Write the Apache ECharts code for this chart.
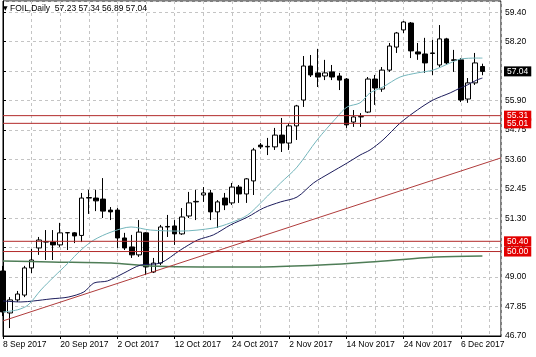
<!DOCTYPE html>
<html><head><meta charset="utf-8">
<script src="https://cdn.jsdelivr.net/npm/echarts@6/dist/echarts.min.js"></script>
<style>html,body{margin:0;padding:0;background:#fff}#c{width:536px;height:357px}</style>
</head><body><div id="c"></div>
<script>
const symbolName = 'FOIL,Daily';
const dateLabels = ['8 Sep 2017','20 Sep 2017','2 Oct 2017','12 Oct 2017','24 Oct 2017','2 Nov 2017','14 Nov 2017','24 Nov 2017','6 Dec 2017'];
const barsPerDateLabel = 8;
const opens  = [49.24,47.60,48.11,48.30,49.36,50.14,50.37,50.37,50.26,50.73,50.73,50.63,52.09,52.09,52.05,51.62,51.62,50.53,50.18,49.87,50.73,49.20,49.55,50.96,51.00,50.69,51.39,51.94,52.21,52.29,51.55,52.09,51.90,52.52,52.25,52.76,54.16,54.09,54.09,54.55,54.24,54.91,55.92,57.25,56.98,56.86,57.02,56.86,56.74,55.06,55.26,55.45,56.74,56.35,57.09,57.99,58.66,58.93,57.80,57.72,57.76,57.29,58.31,57.49,57.49,55.96,56.59,57.23];
const closes = [47.64,48.11,48.34,49.36,49.67,50.45,50.39,50.26,50.73,50.74,50.61,52.09,52.11,51.98,51.58,51.55,50.53,50.14,49.87,50.76,49.40,49.55,50.96,50.98,50.69,51.35,51.90,51.96,52.29,51.55,51.94,51.82,52.52,52.25,52.84,53.97,54.09,54.11,54.55,54.24,54.91,55.69,57.25,56.90,56.82,56.98,56.82,56.70,54.95,55.26,55.28,56.74,56.39,57.09,58.03,58.54,58.97,57.84,57.72,57.37,57.74,58.31,57.37,57.47,55.92,56.59,57.37,57.04];
const lows   = [47.48,47.01,48.03,48.22,49.16,49.87,49.67,49.67,50.18,50.06,50.33,50.37,51.47,51.58,51.31,51.23,50.14,50.06,49.75,49.79,49.08,49.16,49.47,50.57,50.26,50.65,51.31,51.23,51.94,51.23,50.92,51.62,51.82,51.90,51.90,52.21,54.01,53.77,53.97,53.89,53.97,54.36,55.65,56.82,56.43,56.70,56.70,56.31,54.83,54.87,54.87,55.41,55.73,56.24,57.02,57.76,58.54,57.56,57.49,56.98,56.90,57.21,57.29,57.02,55.84,55.81,56.51,56.89];
const highs  = [49.44,48.22,48.46,49.44,50.10,50.57,50.84,50.84,51.12,50.76,50.76,52.29,52.41,52.41,52.87,51.74,51.70,50.73,50.65,51.23,50.76,49.75,51.04,51.43,51.23,51.70,52.33,52.41,52.52,52.41,52.01,52.29,52.68,52.60,52.87,54.05,54.24,54.44,54.83,55.22,55.02,55.73,57.64,57.68,57.92,57.49,57.29,56.98,56.78,55.53,55.41,56.82,56.90,57.21,58.15,58.58,59.01,58.97,58.15,58.35,58.27,58.85,58.35,57.88,57.56,56.78,57.76,57.34];

// moving averages: [bar, price]
const fastMA = [[0,47.64],[2,47.72],[3.5,47.91],[5.3,48.50],[7.1,49.01],[9.1,49.55],[10.9,50.06],[12.7,50.45],[15.1,50.76],[17.9,50.96],[20.6,50.84],[24.8,50.80],[29.4,50.92],[31.8,51.12],[34.2,51.43],[36.4,52.01],[38.8,52.68],[41.1,53.30],[43.9,54.36],[46.7,55.26],[48.1,55.65],[49.9,55.81],[51.3,56.20],[53.1,56.43],[55.5,56.82],[57.9,56.98],[60.1,57.09],[62.5,57.37],[63.9,57.52],[66.2,57.56],[67,57.56]];
const slowMA = [[0,48.07],[2.5,48.03],[4.3,48.07],[6.7,48.15],[9.1,48.22],[11.3,48.42],[12.7,48.77],[14.6,48.85],[16.9,49.16],[19.2,49.47],[22,49.55],[24.8,50.06],[27.2,50.45],[29.4,50.65],[31.8,51.04],[34.2,51.35],[36.4,51.70],[38.8,51.94],[41.1,52.13],[43.4,52.68],[45.7,53.07],[48.1,53.46],[49.9,53.77],[51.3,53.97],[53.1,54.36],[55.5,55.02],[57.9,55.53],[60.1,55.92],[62.5,56.20],[63.9,56.39],[64.9,56.51],[66.2,56.70],[67,56.78]];
const longMA = [[0,49.63],[6.7,49.59],[15.1,49.55],[20.6,49.44],[27.6,49.40],[36.4,49.40],[44.4,49.47],[51.3,49.59],[60.5,49.79],[67,49.83]];
const trendLine = [[0,47.29],[69.6,53.66]];
const levels = [55.31, 55.01, 50.40, 50.00];
const lastPrice = 57.04;
const xRange = [0, 69.6];
const yRange = [46.70, 59.79];
const yStep = 1.15;
const priceTickLabels = ['46.70','47.85','49.00','50.15','51.30','52.45','53.60','54.75','55.90','57.05','58.20','59.40'];

const FONT = 'Liberation Sans';
const LEVEL_COLOR = '#b22a2a';
const candles = opens.map((o, i) => [i, o, closes[i], lows[i], highs[i]]);
const last = candles.length - 1;
const titleText = '{t|\u25BC} ' + symbolName + '  ' + [opens[last], highs[last], lows[last], closes[last]].map(v => v.toFixed(2)).join(' ');

const gridLine = {show: true, lineStyle: {color: '#c4c4c4', type: [3, 3], width: 1}};
function priceLabel(bg) {
  return {
    show: true, distance: 3, formatter: p => p.value[1].toFixed(2),
    backgroundColor: bg, color: '#fff', fontFamily: FONT, fontSize: 8.5,
    lineHeight: 9, padding: [1, 3, 0, 3]
  };
}
function horizontalSeries(v, color, bg) {
  return {
    type: 'line', data: [[xRange[0], v], [xRange[1], v]], showSymbol: false, clip: false,
    color: color, lineStyle: {color: color, width: 1}, z: 5,
    endLabel: priceLabel(bg), labelLayout: {hideOverlap: false}
  };
}

const chart = echarts.init(document.getElementById('c'), null, {renderer: 'canvas'});
chart.setOption({
  animation: false,
  backgroundColor: '#fff',
  title: {
    text: titleText, left: 3, top: 4, padding: 0,
    textStyle: {fontFamily: FONT, fontSize: 8.5, fontWeight: 'normal', color: '#000',
      rich: {t: {fontSize: 6, fontFamily: 'DejaVu Sans', color: '#000'}}}
  },
  grid: {left: 2, right: 35, top: 1, bottom: 21, show: true, borderColor: '#000', borderWidth: 1},
  xAxis: {
    type: 'value', min: xRange[0], max: xRange[1], interval: barsPerDateLabel,
    axisLine: {show: true, lineStyle: {color: '#000', width: 1}},
    axisTick: {show: true, length: 3, lineStyle: {color: '#000'}},
    minorTick: {show: false, splitNumber: 2},
    minorSplitLine: gridLine,
    splitLine: gridLine,
    axisLabel: {
      show: true, align: 'left', margin: 4, color: '#000', fontFamily: FONT, fontSize: 8.5,
      showMaxLabel: false,
      formatter: v => (v % barsPerDateLabel === 0 && dateLabels[v / barsPerDateLabel]) ? dateLabels[v / barsPerDateLabel] : ''
    }
  },
  yAxis: {
    type: 'value', position: 'right', min: yRange[0], max: yRange[1], interval: yStep,
    axisLine: {show: true, lineStyle: {color: '#000', width: 1}},
    axisTick: {show: true, length: 3, lineStyle: {color: '#000'}},
    splitLine: gridLine,
    axisLabel: {
      show: true, margin: 4, color: '#000', fontFamily: FONT, fontSize: 8.5, showMaxLabel: false,
      formatter: v => {
        const k = Math.round((v - yRange[0]) / yStep);
        return Math.abs(yRange[0] + k * yStep - v) < 1e-6 && priceTickLabels[k] ? priceTickLabels[k] : '';
      }
    }
  },
  series: [
    {
      type: 'candlestick', data: candles, barWidth: 5, clip: true,
      itemStyle: {color: '#fff', color0: '#000', borderColor: '#000', borderColor0: '#000', borderColorDoji: '#000', borderWidth: 1}
    },
    {type: 'line', data: longMA, showSymbol: false, smooth: 0.3, clip: true, lineStyle: {color: '#4f7d57', width: 1.5}},
    {type: 'line', data: trendLine, showSymbol: false, clip: true, lineStyle: {color: '#b03c3c', width: 1}},
    {type: 'line', data: slowMA, showSymbol: false, smooth: 0.3, clip: true, lineStyle: {color: '#1c1c5c', width: 1}},
    {type: 'line', data: fastMA, showSymbol: false, smooth: 0.3, clip: true, lineStyle: {color: '#74b6bc', width: 1}}
  ].concat(levels.map(v => horizontalSeries(v, LEVEL_COLOR, '#e30000')))
   .concat([horizontalSeries(lastPrice, 'rgba(0,0,0,0)', '#000')])
});
</script></body></html>
